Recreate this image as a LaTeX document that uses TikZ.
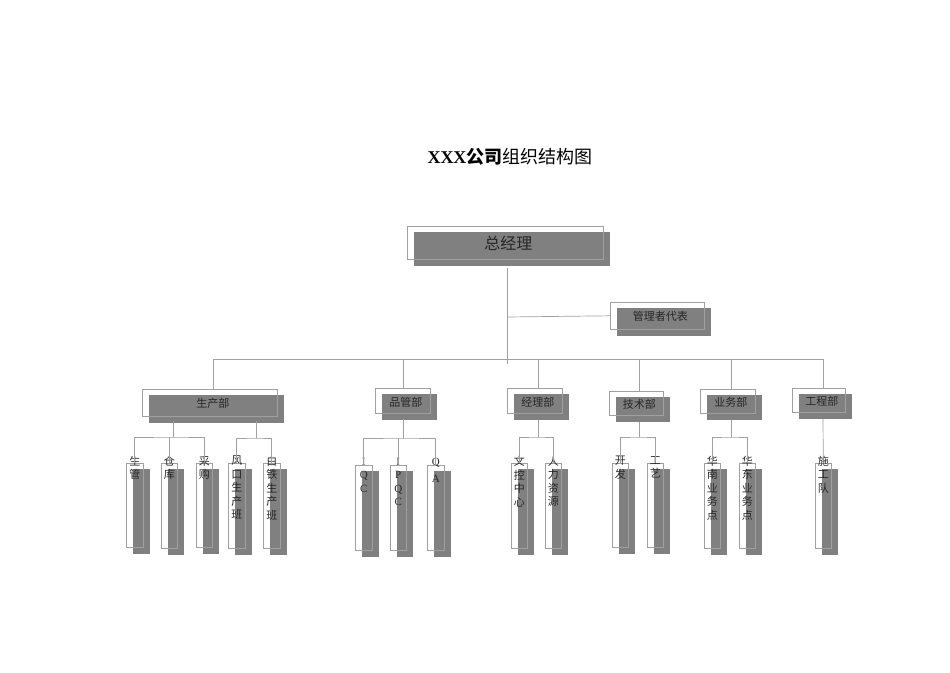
\documentclass[tikz,border=0pt]{standalone}
\usepackage{fontspec}
\setmainfont{Liberation Serif}
\newfontfamily\cjk{Noto Sans CJK SC}
\usetikzlibrary{calc}
\definecolor{boxgray}{HTML}{808080}
\definecolor{linegray}{HTML}{A0A0A0}
\tikzset{
  conn/.style={draw=linegray, line width=0.7pt},
  obox/.style={draw=linegray, line width=0.6pt, inner sep=0pt, anchor=north west},
  htext/.style={font=\cjk\fontsize{11}{13}\selectfont, text=black!85},
  vtext/.style={font=\cjk\fontsize{11}{13.5}\selectfont, text=black!85, anchor=north, align=center, inner sep=0pt}
}
\newcommand\orgrect[5]{%
  \fill[boxgray] (#2+7,#3+6) rectangle (#4+7,#5+7);
  \node[obox, minimum width=#4*1pt-#2*1pt, minimum height=#5*1pt-#3*1pt] (#1) at (#2,#3) {};
}
\newcommand\orgh[7]{\orgrect{#1}{#2}{#3}{#4}{#5}\node[htext,#7] (#1t) at ($(#1.center)+(3,1)$) {#6};}
\newcommand\orgv[6]{\orgrect{#1}{#2}{#3}{#4}{#5}\node[vtext] (#1t) at ($(#1.north)+(0,-7)$) {#6};}
\begin{document}
\begin{tikzpicture}[x=1pt,y=-1pt]
\useasboundingbox (0,0) rectangle (950,672);
\node[font=\fontsize{18}{20}\selectfont] (title) at (510,157) {\textbf{XXX}{\cjk\bfseries 公司}{\cjk 组织结构图}};

\orgh{gm}{407}{226}{603}{259}{总经理}{font=\cjk\fontsize{16}{18}\selectfont}
\orgh{rep}{610}{302}{704}{329}{管理者代表}{}
\orgh{d1}{142}{389}{277}{416}{生产部}{}
\orgh{d2}{375}{388}{430}{413}{品管部}{}
\orgh{d3}{507}{388}{562}{413}{经理部}{}
\orgh{d4}{609}{391}{663}{415}{技术部}{}
\orgh{d5}{700}{389}{755}{413}{业务部}{}
\orgh{d6}{792}{388}{845}{412}{工程部}{}

\orgv{a1}{126}{463}{143}{547}{生\\管}
\orgv{a2}{161}{463}{177}{548}{仓\\库}
\orgv{a3}{196}{463}{212}{547}{采\\购}
\orgv{a4}{228}{463}{245}{548}{风\\口\\生\\产\\班}
\orgv{a5}{263}{463}{280}{548}{白\\铁\\生\\产\\班}
\orgv{b1}{355}{465}{372}{550}{{\rmfamily I}\\{\rmfamily Q}\\{\rmfamily C}}
\orgv{b2}{390}{465}{406}{550}{{\rmfamily I}\\{\rmfamily P}\\{\rmfamily Q}\\{\rmfamily C}}
\orgv{b3}{427}{465}{444}{550}{{\rmfamily Q}\\[4pt]{\rmfamily A}}
\orgv{c1}{511}{463}{527}{548}{文\\控\\中\\心}
\orgv{c2}{545}{463}{561}{548}{人\\力\\资\\源}
\orgv{e1}{612}{463}{628}{547}{开\\发}
\orgv{e2}{647}{463}{663}{547}{工\\艺}
\orgv{f1}{704}{463}{720}{548}{华\\南\\业\\务\\点}
\orgv{f2}{739}{463}{755}{548}{华\\东\\业\\务\\点}
\orgv{g1}{815}{463}{831}{548}{施\\工\\队}

\coordinate (gmb) at (507,268);
\coordinate (busL) at (213,359);
\coordinate (busR) at (823,359);
\draw[conn] (gmb) -- (507,364);
\draw[conn] (507,317) -- (rep.west);
\draw[conn] (busL) -- (busR);
\draw[conn] (213,359) -- (213,389);
\draw[conn] (403,359) -- (403,388);
\draw[conn] (538,359) -- (538,388);
\draw[conn] (639,359) -- (639,391);
\draw[conn] (731,359) -- (731,389);
\draw[conn] (823,359) -- (823,388);

\draw[conn] (173,421) -- (173,437);
\draw[conn] (a1.north) |- (173,437) -| (a3.north);
\draw[conn] (a2.north) -- (a2.north |- 0,437);
\draw[conn] (256,421) -- (256,438);
\draw[conn] (a4.north) |- (256,438) -| (a5.north);
\draw[conn] (403,419) -- (403,438);
\draw[conn] (b1.north) |- (403,438) -| (b3.north);
\draw[conn] (b2.north) -- (b2.north |- 0,438);
\draw[conn] (538,420) -- (538,437);
\draw[conn] (c1.north) |- (538,437) -| (c2.north);
\draw[conn] (639,422) -- (639,437);
\draw[conn] (e1.north) |- (639,437) -| (e2.north);
\draw[conn] (731,420) -- (731,437);
\draw[conn] (f1.north) |- (731,437) -| (f2.north);
\draw[conn] (823,419) -- (g1.north);
\end{tikzpicture}
\end{document}
